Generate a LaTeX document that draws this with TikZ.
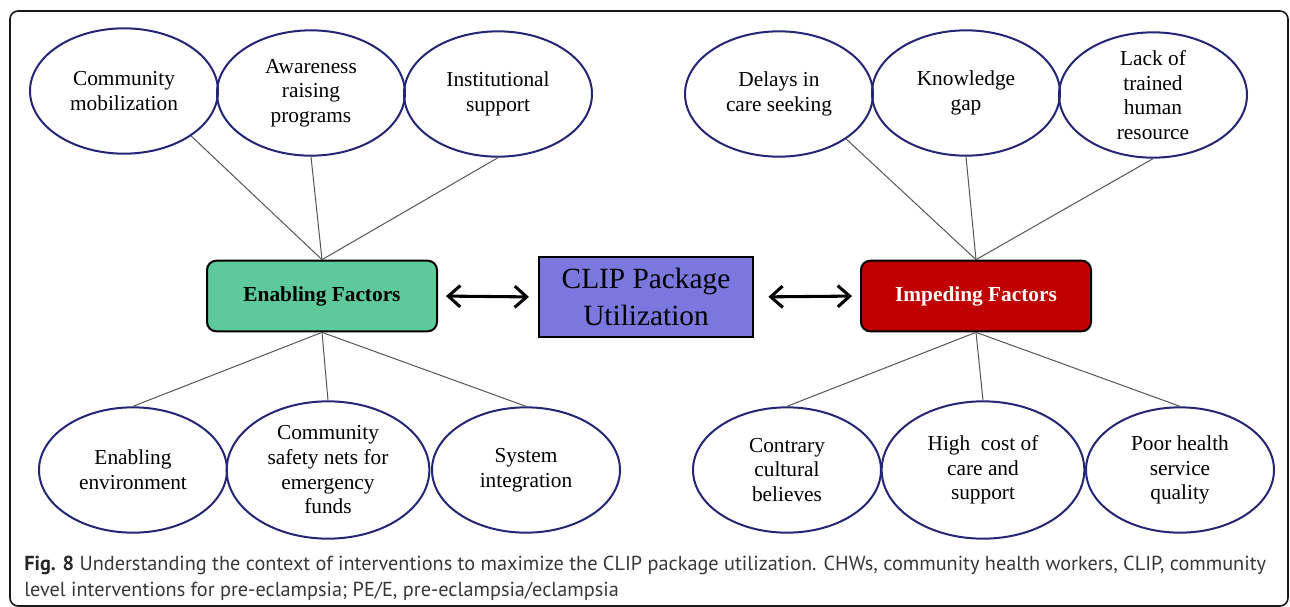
\documentclass[tikz,border=0pt]{standalone}
\usepackage{fontspec}
\setmainfont{Liberation Serif}
\newfontfamily\captionfont{PT Sans}
\usetikzlibrary{shapes.geometric}
\usetikzlibrary{arrows.meta}

\definecolor{navy}{RGB}{35,38,118}
\definecolor{enablegreen}{RGB}{94,201,155}
\definecolor{clipblue}{RGB}{122,120,222}
\definecolor{impedered}{RGB}{192,0,0}
\definecolor{linkgray}{RGB}{85,85,85}
\definecolor{captiongray}{RGB}{55,55,55}

\tikzset{
  bubble/.style={ellipse, draw=navy, line width=1.5pt, minimum width=141pt, minimum height=94pt,
    inner sep=-3pt, align=center, font=\fontsize{16}{18.5}\selectfont},
  bigbubble/.style={bubble, minimum width=152pt, minimum height=103pt},
  factor/.style={rectangle, rounded corners=7pt, draw=black, line width=1.5pt,
    minimum width=172.5pt, minimum height=53pt, font=\fontsize{16}{19}\selectfont\bfseries},
  link/.style={draw=linkgray, line width=0.75pt},
  twoway/.style={{Straight Barb[length=9pt,width=16pt]}-{Straight Barb[length=9pt,width=16pt]}, line width=2.3pt},
  caption/.style={anchor=base west, inner sep=0pt, text=captiongray, font=\captionfont\fontsize{15.2}{19.5}\selectfont}
}

\begin{document}
\begin{tikzpicture}[x=0.75pt, y=-0.75pt]
  \useasboundingbox (0,0) rectangle (1290,607);
  % frame
  \draw[rounded corners=6pt, line width=1.2pt, draw=black!90] (10,11) rectangle (1288,606);

  % centre
  \node[draw=black, line width=1.1pt, fill=clipblue, minimum width=160.5pt, minimum height=60pt,
    align=center, font=\fontsize{22}{27.5}\selectfont] (clip) at (646,297) {CLIP Package\\Utilization};
  \node[factor, fill=enablegreen] (ef) at (322,296) {Enabling Factors};
  \node[factor, fill=impedered, text=white] (imf) at (976,296) {Impeding Factors};
  \draw[twoway, shorten <=6pt, shorten >=7pt] (ef.east) -- (clip.west);
  \draw[twoway, shorten <=11pt, shorten >=6pt] (clip.east) -- (imf.west);

  % enabling, top
  \node[bubble] (cm) at (124,91) {Community\\mobilization};
  \node[bubble] (arp) at (311,93) {Awareness\\raising\\programs};
  \node[bubble] (ins) at (498,94) {Institutional\\support};
  % enabling, bottom
  \node[bubble] (ee) at (133,470) {Enabling\\environment};
  \node[bigbubble] (csn) at (328,470) {Community\\safety nets for\\emergency\\funds};
  \node[bubble] (si) at (526,470) {System\\integration};

  % impeding, top
  \node[bubble] (dcs) at (779,94) {Delays in\\care seeking};
  \node[bubble] (kg) at (966,93) {Knowledge\\gap};
  \node[bubble] (lth) at (1153,95) {Lack of\\trained\\human\\resource};
  % impeding, bottom
  \node[bubble] (ccb) at (787,470) {Contrary\\cultural\\believes};
  \node[bigbubble] (hcc) at (983,470) {High~ cost of\\care and\\support};
  \node[bubble] (phs) at (1180,470) {Poor health\\service\\quality};

  % links
  \draw[link] (ef.north) -- (cm.south east);
  \draw[link] (ef.north) -- (arp.south);
  \draw[link] (ef.north) -- (ins.south);
  \draw[link] (ef.south) -- (ee.north);
  \draw[link] (ef.south) -- (csn.north);
  \draw[link] (ef.south) -- (si.north);
  \draw[link] (imf.north) -- (dcs.south east);
  \draw[link] (imf.north) -- (kg.south);
  \draw[link] (imf.north) -- (lth.south);
  \draw[link] (imf.south) -- (ccb.north);
  \draw[link] (imf.south) -- (hcc.north);
  \draw[link] (imf.south) -- (phs.north);

  % caption
  \node[caption] (capa) at (24,570) {{\bfseries\color{black!85}Fig. 8} Understanding the context of interventions to maximize the CLIP package utilization. CHWs, community health workers, CLIP, community};
  \node[caption] (capb) at (24,596) {level interventions for pre-eclampsia; PE/E, pre-eclampsia/eclampsia};
\end{tikzpicture}
\end{document}
